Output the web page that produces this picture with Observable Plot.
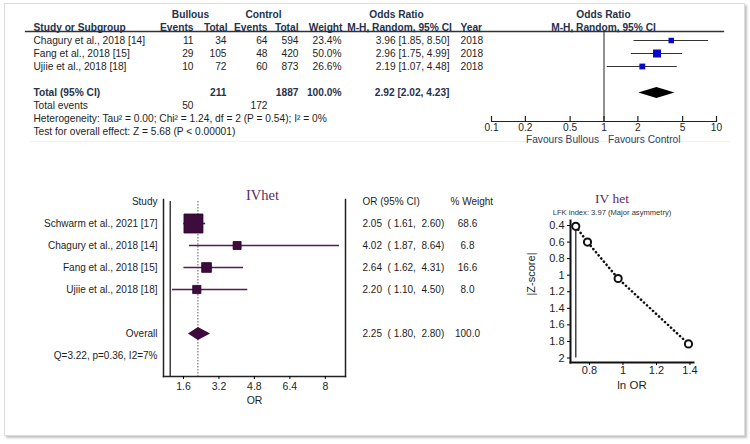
<!DOCTYPE html>
<html><head><meta charset="utf-8">
<script src="https://cdn.jsdelivr.net/npm/d3@7"></script>
<script src="https://cdn.jsdelivr.net/npm/@observablehq/plot@0.6"></script>
<style>
html,body{margin:0;padding:0;background:#fff;}
#wrap{position:relative;width:750px;height:444px;overflow:hidden;background:#fff;}
#wrap svg{position:absolute;left:0;top:0;}
#wrap text{white-space:pre;}
.frame{position:absolute;left:4px;top:3px;width:739px;height:431px;border:1px solid #dcdcdc;box-shadow:2px 2px 2px #c4c4c4;}
.sep{position:absolute;left:30px;top:141px;width:700px;height:1px;background:#f2f2f2;}
</style></head><body><div id="wrap"><div class="frame"></div><div class="sep"></div></div>
<script>
// ---------------- DATA ----------------
// Top panel: RevMan forest plot
const topStudies = ["Chagury et al., 2018 [14]", "Fang et al., 2018 [15]", "Ujiie et al., 2018 [18]"];
const topEventsB = [11, 29, 10];
const topTotalB = [34, 105, 72];
const topEventsC = [64, 48, 60];
const topTotalC = [594, 420, 873];
const topWeight = [23.4, 50.0, 26.6];
const topOR = [3.96, 2.96, 2.19];
const topLo = [1.85, 1.75, 1.07];
const topHi = [8.50, 4.99, 4.48];
const topYear = [2018, 2018, 2018];
const topTotals = [211, 1887];          // Bullous total, Control total
const topTotalEvents = [50, 172];       // Bullous events, Control events
const topPooled = [2.92, 2.02, 4.23];   // OR, lower, upper
const topHet = "Heterogeneity: Tau² = 0.00; Chi² = 1.24, df = 2 (P = 0.54); I² = 0%";
const topTest = "Test for overall effect: Z = 5.68 (P < 0.00001)";
const topTicks = [0.1, 0.2, 0.5, 1, 2, 5, 10];
const topHeader1 = ["Bullous", "Control", "Odds Ratio", "Odds Ratio"];
const topHeader2 = ["Study or Subgroup", "Events", "Total", "Events", "Total", "Weight", "M-H, Random, 95% CI", "Year", "M-H, Random, 95% CI"];
const topFavours = ["Favours Bullous", "Favours Control"];

// Bottom-left panel: IVhet forest plot
const ivStudies = ["Schwarm et al., 2021 [17]", "Chagury et al., 2018 [14]", "Fang et al., 2018 [15]", "Ujiie et al., 2018 [18]"];
const ivOR = [2.05, 4.02, 2.64, 2.20];
const ivLo = [1.61, 1.87, 1.62, 1.10];
const ivHi = [2.60, 8.64, 4.31, 4.50];
const ivWeight = [68.6, 6.8, 16.6, 8.0];
const ivPooled = [2.25, 1.80, 2.80];
const ivHetText = "Q=3.22, p=0.36, I2=7%";
const ivTicks = [1.6, 3.2, 4.8, 6.4, 8];

// Bottom-right panel: Doi plot
const doiLnOR = [0.718, 0.788, 0.971, 1.391];
const doiZ = [0.41, 0.60, 1.04, 1.83];
const doiYTicks = [0.4, 0.6, 0.8, 1, 1.2, 1.4, 1.6, 1.8, 2];
const doiXTicks = [0.8, 1, 1.2, 1.4];
const doiSubtitle = "LFK index: 3.97 (Major asymmetry)";

// ---------------- LAYOUT ----------------
const W = 750, H = 444;
const FONT = "'Liberation Sans', Arial, Helvetica, sans-serif";
const SERIF = "'Liberation Serif', 'Times New Roman', serif";
const HEAD = "#26324c", BODY = "#1e1e1e";
const PURPLE_BOX = "#3d0b3d", PURPLE_LINE = "#521e52", PURPLE_TITLE = "#5c2c5c";
const fmt2 = d3.format(".2f"), fmtG = d3.format("~g");
const wrap = document.getElementById("wrap");
function mk(opts) {
  const svg = Plot.plot({width: W, height: H,
    style: {background: "transparent", fontFamily: FONT, fontSize: "10px", overflow: "visible"}, ...opts});
  wrap.appendChild(svg);
  return svg;
}

// ---------- Top table ----------
const topRows = ["hdr1", "hdr2", ...topStudies, "gap", "total", "events", "het", "test"];
const yTop = {type: "point", domain: topRows, range: [10, 135], padding: 0, axis: null};
const TL = 25;
const tableMarks = [Plot.frame({anchor: "top", stroke: "#333", strokeWidth: 1.3})];
function col(values, rowKeys, x, anchor, extra = {}) {
  return Plot.text(values.map((v, i) => ({k: rowKeys[i], t: String(v)})),
    {y: "k", text: "t", frameAnchor: "left", dx: x - TL, textAnchor: anchor, fill: BODY, fontSize: 10.2, ...extra});
}
const hdr = {fontWeight: "bold", fill: HEAD};
const h1Pos = [[190, "middle"], [263, "middle"], [396, "middle"], [603, "middle"]];
const h2Pos = [[33, "start"], [193, "end"], [227, "end"], [267, "end"], [298, "end"], [342, "end"], [399, "middle"], [460, "start"], [603, "middle"]];
topHeader1.forEach((t, i) => tableMarks.push(col([t], ["hdr1"], h1Pos[i][0], h1Pos[i][1], hdr)));
topHeader2.forEach((t, i) => tableMarks.push(col([t], ["hdr2"], h2Pos[i][0], h2Pos[i][1], hdr)));
tableMarks.push(
  col(topStudies, topStudies, 33, "start"),
  col(topEventsB, topStudies, 193, "end"),
  col(topTotalB, topStudies, 226, "end"),
  col(topEventsC, topStudies, 267, "end"),
  col(topTotalC, topStudies, 298, "end"),
  col(topWeight.map(w => w.toFixed(1) + "%"), topStudies, 341, "end"),
  col(topOR.map((o, i) => `${fmt2(o)} [${fmt2(topLo[i])}, ${fmt2(topHi[i])}]`), topStudies, 449, "end"),
  col(topYear, topStudies, 460, "start"),
  col(["Total (95% CI)"], ["total"], 33, "start", hdr),
  col([topTotals[0]], ["total"], 226, "end", hdr),
  col([topTotals[1]], ["total"], 298, "end", hdr),
  col([d3.sum(topWeight).toFixed(1) + "%"], ["total"], 341, "end", hdr),
  col([`${fmt2(topPooled[0])} [${fmt2(topPooled[1])}, ${fmt2(topPooled[2])}]`], ["total"], 449, "end", hdr),
  col(["Total events"], ["events"], 33, "start"),
  col([topTotalEvents[0]], ["events"], 193, "end"),
  col([topTotalEvents[1]], ["events"], 267, "end"),
  col([topHet], ["het"], 33, "start"),
  col([topTest], ["test"], 33, "start")
);
mk({marginLeft: TL, marginRight: 27, marginTop: 31, marginBottom: 0, y: yTop, marks: tableMarks});

// ---------- Top forest graphic ----------
const topData = topStudies.map((s, i) => ({study: s, or: topOR[i], lo: topLo[i], hi: topHi[i], w: topWeight[i]}));
const xTopOpts = {type: "log", domain: [0.1, 10], range: [491, 716]};
const xTop = Plot.scale({x: xTopOpts});
function diamondSymbol(scale, or, lo, hi, half) {
  return {draw(ctx) {
    const c = scale.apply(or), l = scale.apply(lo) - c, r = scale.apply(hi) - c;
    ctx.moveTo(l, 0); ctx.lineTo(0, -half); ctx.lineTo(r, 0); ctx.lineTo(0, half); ctx.closePath();
  }};
}
mk({
  marginLeft: 491, marginRight: W - 716, marginTop: 31, marginBottom: H - 121,
  x: {...xTopOpts, label: null}, y: yTop,
  r: {type: "sqrt", domain: [0, 50], range: [0, 4.5]},
  marks: [
    Plot.ruleX([1], {stroke: "#222", strokeWidth: 1}),
    Plot.frame({anchor: "bottom", stroke: "#222", strokeWidth: 1.2}),
    Plot.tickX(topTicks, {x: d => d, insetTop: 85, stroke: "#222", strokeWidth: 1.2}),
    Plot.axisX({ticks: topTicks, tickSize: 0, tickPadding: 2, tickFormat: d => String(d), fontSize: 10.2, fill: BODY, label: null}),
    Plot.ruleY(topData, {y: "study", x1: "lo", x2: "hi", stroke: "#333", strokeWidth: 1}),
    Plot.dot(topData, {x: "or", y: "study", r: "w", symbol: "square", fill: "#0808c8", stroke: "none"}),
    Plot.dot([topPooled], {x: d => d[0], y: () => "total", r: 5,
      symbol: diamondSymbol(xTop, topPooled[0], topPooled[1], topPooled[2], 5.5), fill: "#000", stroke: "none"}),
    Plot.text([1], {x: d => d, frameAnchor: "bottom", dy: 21, dx: -5, textAnchor: "end", text: () => topFavours[0], fill: "#2b3f66", fontSize: 10.2}),
    Plot.text([1], {x: d => d, frameAnchor: "bottom", dy: 21, dx: 4, textAnchor: "start", text: () => topFavours[1], fill: "#2b3f66", fontSize: 10.2})
  ]
});

// ---------- Bottom-left: IVhet forest ----------
const ivRows = ["Study", ...ivStudies, "gap", "Overall", "Q"];
const ivData = ivStudies.map((s, i) => ({study: s, or: ivOR[i], lo: ivLo[i], hi: ivHi[i], w: ivWeight[i]}));
const xIvOpts = {domain: [1, 8], range: [169.7, 324.8]};
const xIv = Plot.scale({x: xIvOpts});
const ivLabels = [{k: "Study", t: "Study"}, ...ivStudies.map(s => ({k: s, t: s})), {k: "Overall", t: "Overall"}, {k: "Q", t: ivHetText}];
const ivRight = [...ivData.map(d => ({k: d.study, or: d.or, lo: d.lo, hi: d.hi, w: d.w})),
  {k: "Overall", or: ivPooled[0], lo: ivPooled[1], hi: ivPooled[2], w: d3.sum(ivWeight)}];
mk({
  marginLeft: 163, marginRight: W - 345, marginTop: 199, marginBottom: H - 376,
  x: {...xIvOpts, label: null},
  y: {type: "point", domain: ivRows, range: [200, 355], padding: 0, axis: null},
  r: {type: "linear", domain: [0, 68.6], range: [3.83, 10.72]},
  marks: [
    Plot.frame({anchor: "left", stroke: "#222", strokeWidth: 1.5}),
    Plot.frame({anchor: "right", stroke: "#222", strokeWidth: 1.5}),
    Plot.frame({anchor: "bottom", stroke: "#222", strokeWidth: 1.5}),
    Plot.ruleX([1], {stroke: "#111", strokeWidth: 1.2, insetTop: 2}),
    Plot.ruleX([ivPooled[0]], {stroke: "#777", strokeWidth: 1.2, strokeDasharray: "1.5,1.5", insetTop: 2}),
    Plot.axisX({ticks: ivTicks, tickSize: 3, tickPadding: 3, tickFormat: fmtG, fontSize: 10.5, fill: BODY, label: null}),
    Plot.text(["OR"], {frameAnchor: "bottom", dy: 27, text: d => d, fontSize: 10.5, fill: BODY}),
    Plot.ruleY(ivData, {y: "study", x1: "lo", x2: "hi", stroke: PURPLE_LINE, strokeWidth: 1.6}),
    Plot.dot(ivData, {x: "or", y: "study", r: "w", symbol: "square", fill: PURPLE_BOX, stroke: "#2a002a", strokeWidth: 0.8}),
    Plot.dot([ivPooled], {x: d => d[0], y: () => "Overall", r: 6,
      symbol: diamondSymbol(xIv, ivPooled[0], ivPooled[1], ivPooled[2], 6.5), fill: PURPLE_BOX, stroke: "none"}),
    Plot.text(ivLabels, {y: "k", text: "t", frameAnchor: "left", dx: -6, textAnchor: "end", fontSize: 10, fill: BODY}),
    Plot.text(["OR (95% CI)"], {y: () => "Study", text: d => d, frameAnchor: "right", dx: 17, textAnchor: "start", fontSize: 10, fill: BODY}),
    Plot.text(["% Weight"], {y: () => "Study", text: d => d, frameAnchor: "right", dx: 105, textAnchor: "start", fontSize: 10, fill: BODY}),
    Plot.text(ivRight, {y: "k", text: d => `${fmt2(d.or)}  ( ${fmt2(d.lo)},  ${fmt2(d.hi)})`, frameAnchor: "right", dx: 17, textAnchor: "start", fontSize: 10, fill: BODY}),
    Plot.text(ivRight, {y: "k", text: d => d.w.toFixed(1), frameAnchor: "right", dx: 122, textAnchor: "middle", fontSize: 10, fill: BODY}),
    Plot.text(["IVhet"], {frameAnchor: "top", dy: -10, dx: 8, text: d => d, fontFamily: SERIF, fontSize: 14.5, fill: PURPLE_TITLE})
  ]
});

// ---------- Bottom-right: Doi plot ----------
const doiData = doiLnOR.map((x, i) => ({x, z: doiZ[i]}));
mk({
  marginLeft: 570, marginRight: W - 693, marginTop: 220, marginBottom: H - 362,
  x: {domain: [0.8, 1.4], range: [589, 689.5], label: null},
  y: {domain: [0.4, 2], range: [225, 357.5], label: null},
  marks: [
    Plot.frame({anchor: "left", stroke: "#111", strokeWidth: 2}),
    Plot.frame({anchor: "bottom", stroke: "#111", strokeWidth: 2}),
    Plot.axisY({ticks: doiYTicks, tickSize: 3, tickPadding: 3, tickFormat: fmtG, fontSize: 11, fill: BODY, label: null}),
    Plot.axisX({ticks: doiXTicks, tickSize: 3, tickPadding: 1, tickFormat: fmtG, fontSize: 11, fill: BODY, label: null}),
    Plot.ruleX([doiData[0]], {x: "x", y1: () => doiYTicks[0], y2: () => doiYTicks[doiYTicks.length - 1], stroke: "#444", strokeWidth: 1.5}),
    Plot.line(doiData, {x: "x", y: "z", stroke: "#111", strokeWidth: 2.6, strokeDasharray: "0.1,4", strokeLinecap: "round"}),
    Plot.dot(doiData, {x: "x", y: "z", r: 3.6, stroke: "#111", strokeWidth: 2, fill: "white"}),
    Plot.text(["IV het"], {frameAnchor: "top", dy: -27, dx: -20, text: d => d, fontFamily: SERIF, fontSize: 13.5, fill: PURPLE_TITLE}),
    Plot.text([doiSubtitle], {frameAnchor: "top", dy: -11, dx: -20, text: d => d, fontSize: 7.6, fill: "#333", letterSpacing: "-0.2px"}),
    Plot.text(["|Z-score|"], {frameAnchor: "left", dx: -39, dy: 4, rotate: -90, text: d => d, fontSize: 11, fill: BODY}),
    Plot.text(["ln OR"], {frameAnchor: "bottom", dy: 26, text: d => d, fontSize: 11.5, fill: BODY})
  ]
});
</script></body></html>
